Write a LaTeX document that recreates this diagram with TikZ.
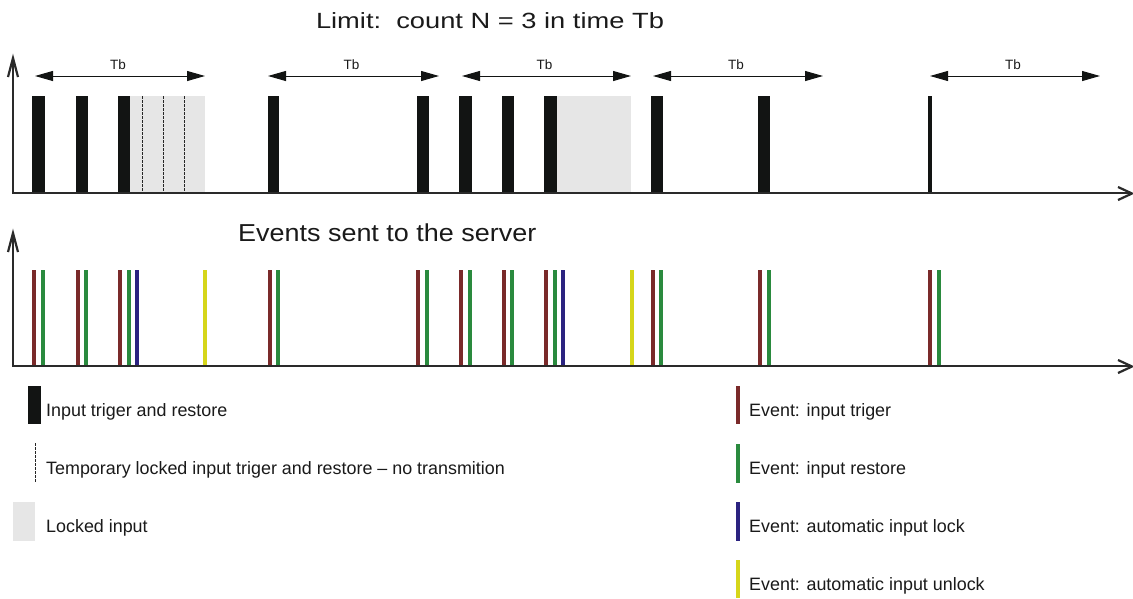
\documentclass[tikz,border=0pt]{standalone}
\usepackage{graphicx}
\usepackage{fontspec}
\setmainfont{Liberation Sans}
\usetikzlibrary{arrows.meta,calc}
\definecolor{barblack}{HTML}{121413}
\definecolor{lockgray}{HTML}{E6E6E6}
\definecolor{axisgray}{HTML}{2A2A2A}
\definecolor{textc}{HTML}{1A1A1A}
\definecolor{evred}{HTML}{7A2A2A}
\definecolor{evgreen}{HTML}{2A8A3E}
\definecolor{evblue}{HTML}{2B2380}
\definecolor{evyellow}{HTML}{D6D61A}
\tikzset{
  inbar/.style={fill=barblack},
  lockbox/.style={fill=lockgray},
  tmpline/.style={draw=black!85, dash pattern=on 2.5pt off 1.5pt, line width=0.9pt},
  axisline/.style={draw=axisgray, line width=1.6pt},
  axishead/.style={draw=axisgray, line width=2.2pt, line join=miter},
  tbarrow/.style={{Triangle[length=18pt,width=10pt]}-{Triangle[length=18pt,width=10pt]}, line width=1pt, draw=barblack},
  lbl/.style={text=textc, inner sep=0pt, font=\fontsize{17.9}{20}\selectfont},
  tblbl/.style={text=textc, inner sep=0pt, font=\fontsize{13.5}{15}\selectfont},
  bigtxt/.style={text=textc, inner sep=0pt, font=\fontsize{22}{26}\selectfont},
  evtxt/.style={text=textc, inner sep=0pt, font=\fontsize{24.5}{28}\selectfont},
}
\begin{document}
\begin{tikzpicture}[x=1pt,y=-1pt]
\useasboundingbox[fill=white] (0,0) rectangle (1133,598);

% title
\node[bigtxt, anchor=base] (title) at (490,28) {\scalebox{1.24}[1]{Limit:\ \ count N = 3 in time Tb}};

% ---------- top chart ----------
% locked areas
\fill[lockbox] (130,96) rectangle (205,192);
\fill[lockbox] (557,96) rectangle (631,192);
% temporary locked triggers
\foreach \x in {142,163,184} \draw[tmpline] (\x,96) -- (\x,192);
% input bars
\foreach \a/\b in {32/45, 76/88, 118/130, 268/279, 417/429, 459/472, 502/514, 544/557, 651/663, 758/770, 928/932}
  \fill[inbar] (\a,96) rectangle (\b,192);
% axes
\draw[axisline] (13,59) -- (13,193) -- (1132,193);
\draw[axishead] (8,77) -- (13,58) -- (18,77);
\draw[axishead] (1118,187) -- (1132,193.5) -- (1118,200);

% Tb arrows
\foreach \i/\l/\r in {1/35/205, 2/268/439, 3/462/631, 4/653/823, 5/930/1100}{
  \coordinate (tbl\i) at (\l,76);
  \coordinate (tbr\i) at (\r,76);
  \draw[tbarrow] (tbl\i) -- (tbr\i);
  \node[tblbl, anchor=base] (tb\i) at ($(tbl\i)!0.5!(tbr\i)+(-2,-7)$) {Tb};
}

% ---------- bottom chart ----------
\node[evtxt, anchor=base west] (events) at (238,241) {\scalebox{1.1}[1]{Events sent to the server}};
% trigger events (red)
\foreach \x in {32, 75.5, 118, 267.5, 416, 459, 502, 544, 651, 757.5, 928}
  \fill[evred] (\x,270) rectangle ++(4,96);
% restore events (green)
\foreach \x in {41, 84, 127, 276, 425, 468, 510, 553, 659, 766.5, 936.5}
  \fill[evgreen] (\x,270) rectangle ++(4.2,96);
% lock events (blue)
\foreach \x in {135, 561}
  \fill[evblue] (\x,270) rectangle ++(4,96);
% unlock events (yellow)
\foreach \x in {203, 630}
  \fill[evyellow] (\x,270) rectangle ++(4,96);
% axes
\draw[axisline] (13,234) -- (13,366) -- (1132,366);
\draw[axishead] (8,252) -- (13,233) -- (18,252);
\draw[axishead] (1118,360) -- (1132,366.5) -- (1118,373);

% ---------- legend ----------
\fill[inbar] (28,386) rectangle (41,424);
\node[lbl, anchor=base west] (lg1) at (46,416.5) {Input triger and restore};
\draw[tmpline] (35,443) -- (35,482);
\node[lbl, anchor=base west] (lg2) at (46,474) {Temporary locked input triger and restore -- no transmition};
\fill[lockbox] (13,502) rectangle (35,541);
\node[lbl, anchor=base west] (lg3) at (46,532) {Locked input};

\fill[evred] (736,386) rectangle (740,424);
\node[lbl, anchor=base west] (lg4) at (749,416) {Event: input triger};
\fill[evgreen] (736,444) rectangle (740,483);
\node[lbl, anchor=base west] (lg5) at (749,474) {Event: input restore};
\fill[evblue] (736,502) rectangle (740,541);
\node[lbl, anchor=base west] (lg6) at (749,532) {Event: automatic input lock};
\fill[evyellow] (736,560) rectangle (740,598);
\node[lbl, anchor=base west] (lg7) at (749,590) {Event: automatic input unlock};
\end{tikzpicture}
\end{document}
